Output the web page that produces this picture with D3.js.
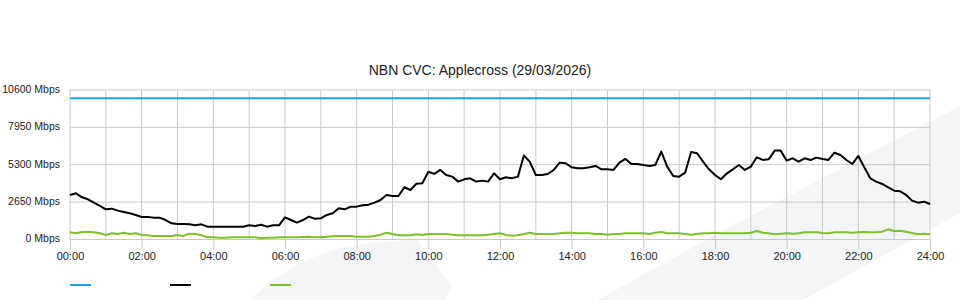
<!DOCTYPE html>
<html lang="en">
<head>
<meta charset="utf-8">
<script src="https://d3js.org/d3.v7.min.js"></script>
<style>
  body { margin: 0; background: #fff; }
  svg text { font-family: "Liberation Sans", Arial, sans-serif; fill: #222; }
  .grid line { stroke: #cacaca; stroke-width: 1; }
  .axis path { display: none; }
  .axis line { stroke: #cacaca; }
  .axis text { font-size: 11px; }
  .yaxis text { font-size: 10.5px; }
</style>
</head>
<body>
<script>
// time of each sample, minutes after midnight (10 minute steps)
var sampleMinutes = d3.range(0, 24 * 60 + 1, 10);

// traffic in Mbps, one value per 10 minutes
var cvcUsed = [
  3155, 3273, 2990, 2850, 2610, 2375,
  2140, 2185, 2045, 1950, 1855, 1735,
  1595, 1595, 1550, 1550, 1380, 1145,
  1100, 1100, 1075, 1005, 1075, 910,
  910, 910, 910, 910, 910, 910,
  1005, 955, 1050, 910, 1005, 1005,
  1570, 1380, 1190, 1380, 1620, 1475,
  1500, 1737, 1855, 2209, 2139, 2328,
  2328, 2422, 2469, 2611, 2800, 3155,
  3084, 3084, 3700, 3509, 3950, 3982,
  4800, 4650, 4930, 4570, 4454, 4100,
  4265, 4336, 4100, 4171, 4100, 4691,
  4265, 4407, 4336, 4454, 5950, 5500,
  4572, 4572, 4643, 4927, 5447, 5400,
  5116, 5045, 5045, 5116, 5211, 4974,
  4974, 4927, 5447, 5707, 5352, 5352,
  5281, 5211, 5281, 6227, 5163, 4501,
  4454, 4738, 6203, 6109, 5518, 4974,
  4572, 4265, 4691, 4974, 5281, 4927,
  5163, 5825, 5636, 5683, 6298, 6298,
  5589, 5754, 5518, 5754, 5636, 5801,
  5707, 5636, 6150, 5990, 5636, 5352,
  5919, 5116, 4336, 4100, 3934, 3698,
  3462, 3415, 3155, 2753, 2611, 2682,
  2517
];

var cvcOther = [
  508, 437, 532, 532, 508, 437,
  319, 437, 390, 484, 390, 437,
  319, 295, 248, 248, 248, 248,
  319, 248, 413, 390, 295, 154,
  154, 130, 130, 154, 154, 154,
  154, 154, 83, 130, 130, 154,
  154, 154, 154, 177, 201, 154,
  154, 201, 224, 248, 248, 248,
  201, 201, 201, 248, 342, 484,
  390, 295, 295, 295, 366, 319,
  390, 390, 390, 390, 342, 295,
  295, 295, 295, 295, 342, 390,
  437, 319, 272, 295, 390, 484,
  390, 390, 390, 390, 437, 484,
  484, 437, 437, 437, 390, 390,
  342, 390, 390, 437, 437, 437,
  437, 390, 484, 532, 437, 437,
  437, 390, 342, 390, 437, 437,
  484, 437, 437, 437, 437, 437,
  484, 603, 484, 437, 366, 413,
  437, 413, 437, 508, 508, 508,
  461, 437, 508, 508, 508, 484,
  508, 532, 508, 508, 555, 721,
  603, 626, 555, 461, 366, 413,
  366
];

// provisioned capacity
var capacityMinutes = [0, 1440];
var capacityValues = [10000, 10000];

var yTicks = [0, 2650, 5300, 7950, 10600];
var xLabelMinutes = d3.range(0, 1441, 120);
var gridMinutes = d3.range(0, 1441, 60);
var title = "NBN CVC: Applecross (29/03/2026)";

var width = 960, height = 300;
var plotLeft = 70, plotRight = 930, plotTop = 89.9, plotBottom = 239.5;

var svg = d3.select("body").append("svg")
  .attr("width", width)
  .attr("height", height);

// faint background watermark
svg.append("path")
  .attr("d", "M250,300 Q300,252 362,244 L416,239 L452,286 L445,300 Z")
  .attr("fill", "#f4f5f7");
svg.append("path")
  .attr("d", "M598,300 L720,232 L960,106 L960,213 L803,300 Z")
  .attr("fill", "#f4f5f7");

var x = d3.scaleLinear().domain([0, 1440]).range([plotLeft, plotRight]);
var y = d3.scaleLinear().domain([0, 10600]).range([plotBottom, plotTop]);

svg.append("text")
  .attr("x", 480)
  .attr("y", 75)
  .attr("text-anchor", "middle")
  .style("font-size", "14px")
  .text(title);

var grid = svg.append("g").attr("class", "grid");
grid.selectAll(".v").data(gridMinutes).enter().append("line")
  .attr("x1", function(d) { return x(d); })
  .attr("x2", function(d) { return x(d); })
  .attr("y1", plotTop)
  .attr("y2", plotBottom);
grid.selectAll(".h").data(yTicks).enter().append("line")
  .attr("x1", plotLeft)
  .attr("x2", plotRight)
  .attr("y1", function(d) { return y(d); })
  .attr("y2", function(d) { return y(d); });

svg.append("g")
  .attr("class", "axis")
  .attr("transform", "translate(0," + plotBottom + ")")
  .call(d3.axisBottom(x)
    .tickValues(xLabelMinutes)
    .tickSize(10)
    .tickPadding(3)
    .tickFormat(function(d) {
      return d3.format("02")(Math.floor(d / 60)) + ":" + d3.format("02")(d % 60);
    }));

svg.append("g")
  .attr("class", "axis yaxis")
  .attr("transform", "translate(" + plotLeft + ",-1)")
  .call(d3.axisLeft(y)
    .tickValues(yTicks)
    .tickSize(0)
    .tickPadding(10)
    .tickFormat(function(d) { return d + " Mbps"; }));

var line = d3.line()
  .x(function(d) { return x(d[0]); })
  .y(function(d) { return y(d[1]); });

var series = [
  { pts: d3.zip(capacityMinutes, capacityValues), colour: "#1ba1e2" },
  { pts: d3.zip(sampleMinutes, cvcOther), colour: "#7fbf2a" },
  { pts: d3.zip(sampleMinutes, cvcUsed), colour: "#000000" }
];

svg.selectAll(".series").data(series).enter().append("path")
  .attr("class", "series")
  .attr("d", function(d) { return line(d.pts); })
  .attr("fill", "none")
  .attr("stroke", function(d) { return d.colour; })
  .attr("stroke-width", 2)
  .attr("stroke-linejoin", "round");

// legend swatches (no labels in the original)
var legend = ["#1ba1e2", "#000000", "#7fbf2a"];
svg.selectAll(".legend").data(legend).enter().append("line")
  .attr("x1", function(d, i) { return 70 + i * 100; })
  .attr("x2", function(d, i) { return 91 + i * 100; })
  .attr("y1", 285)
  .attr("y2", 285)
  .attr("stroke", function(d) { return d; })
  .attr("stroke-width", 2);
</script>
</body>
</html>
